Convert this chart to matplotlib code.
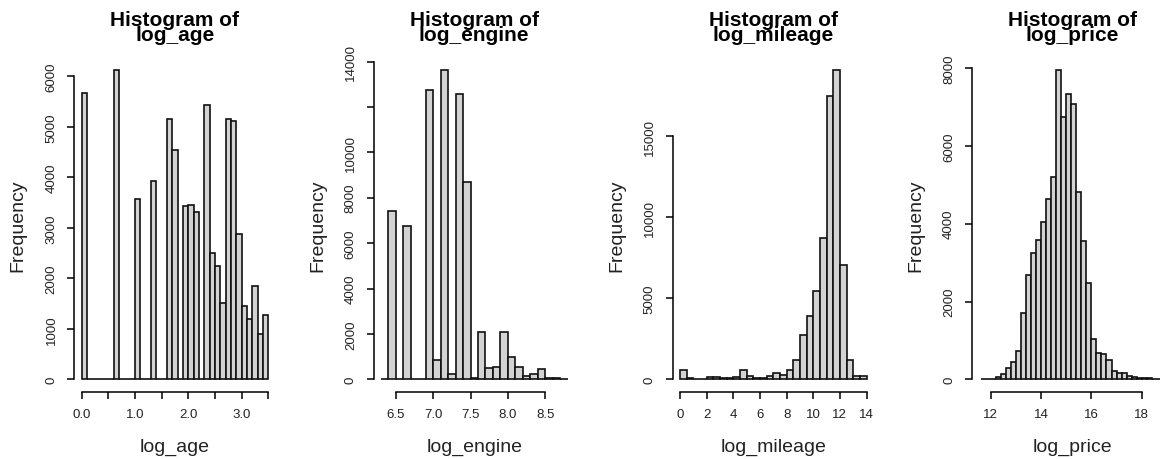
import matplotlib.pyplot as plt
import numpy as np

# histogram counts (bins start, bin width, counts)
age_start, age_step = 0.0, 0.1
age_counts = [5680, 0, 0, 0, 0, 0, 6120, 0, 0, 0,
              3580, 0, 0, 3920, 0, 0, 5160, 4550, 0, 3430,
              3460, 3310, 0, 5430, 2500, 2250, 1510, 5160, 5110, 2870,
              1460, 1190, 1850, 890, 1270]

engine_start, engine_step = 6.3, 0.1
engine_counts = [0, 7400, 0, 6750, 0, 0, 12760, 840, 13610, 240,
                 12580, 8680, 55, 2080, 500, 560, 2080, 1000, 545, 165,
                 250, 440, 45, 45, 10]

mileage_start, mileage_step = 0.0, 0.5
mileage_counts = [555, 85, 5, 5, 145, 145, 60, 60, 160, 555,
                  230, 60, 60, 230, 390, 290, 560, 1170, 2730, 3880,
                  5480, 8730, 17470, 19070, 7030, 1170, 205, 205]

price_start, price_step = 11.6, 0.2
price_counts = [0, 0, 5, 70, 145, 300, 445, 730, 1710, 2670,
                3250, 3590, 4040, 4640, 5200, 7940, 6730, 7340, 7080, 4810,
                3550, 2480, 1045, 685, 640, 490, 215, 170, 170, 85,
                60, 25, 25, 25, 10, 5]

# axis ticks and labels
age_xticks = [0.0, 0.5, 1.0, 1.5, 2.0, 2.5, 3.0, 3.5]
age_xlabels = ["0.0", "", "1.0", "", "2.0", "", "3.0", ""]
age_yticks = [0, 1000, 2000, 3000, 4000, 5000, 6000]
age_ylabels = ["0", "1000", "2000", "3000", "4000", "5000", "6000"]

engine_xticks = [6.5, 7.0, 7.5, 8.0, 8.5]
engine_xlabels = ["6.5", "7.0", "7.5", "8.0", "8.5"]
engine_yticks = [0, 2000, 4000, 6000, 8000, 10000, 12000, 14000]
engine_ylabels = ["0", "2000", "4000", "6000", "8000", "10000", "", "14000"]

mileage_xticks = [0, 2, 4, 6, 8, 10, 12, 14]
mileage_xlabels = ["0", "2", "4", "6", "8", "10", "12", "14"]
mileage_yticks = [0, 5000, 10000, 15000]
mileage_ylabels = ["0", "5000", "10000", "15000"]

price_xticks = [12, 14, 16, 18]
price_xlabels = ["12", "14", "16", "18"]
price_yticks = [0, 2000, 4000, 6000, 8000]
price_ylabels = ["0", "2000", "4000", "6000", "8000"]

plt.rcParams['font.family'] = ['Liberation Sans', 'DejaVu Sans']

W, H = 1160, 460
fig = plt.figure(figsize=(W / 100, H / 100), dpi=100)

PLOT_TOP = 59.0      # pixel row of plot region top
PLOT_BOTTOM = 392.7  # pixel row of x axis line
PLOT_WIDTH = 201.5


def zeichne_hist(left, name, start, step, counts, xlim,
                 xticks, xlabels, yticks, ylabels):
    # axes in pixel coordinates of the R plot region
    ax = fig.add_axes([left / W, 1 - PLOT_BOTTOM / H,
                       PLOT_WIDTH / W, (PLOT_BOTTOM - PLOT_TOP) / H])
    edges = start + step * np.arange(len(counts))
    ax.bar(edges, counts, width=step, align='edge', color='#d3d3d3',
           edgecolor='#111111', linewidth=1.2)

    top = max(counts)
    ax.set_ylim(-0.04 * top, 1.04 * top)
    ax.set_xlim(*xlim)

    ax.spines['top'].set_visible(False)
    ax.spines['right'].set_visible(False)
    ax.spines['left'].set_bounds(yticks[0], yticks[-1])
    ax.spines['bottom'].set_bounds(xticks[0], xticks[-1])
    ax.spines['left'].set_linewidth(1.1)
    ax.spines['bottom'].set_linewidth(1.1)

    ax.set_xticks(xticks)
    ax.set_xticklabels(xlabels)
    ax.set_yticks(yticks)
    ax.set_yticklabels(ylabels, rotation=90, va='center')
    ax.tick_params(length=5, width=1.1, labelsize=9.5, labelcolor='#222222')
    ax.tick_params(axis='x', pad=7)
    ax.tick_params(axis='y', pad=7)

    # title, axis labels as in R hist()
    cx = left + PLOT_WIDTH / 2
    fig.text(cx / W, 1 - 28 / H, "Histogram of\n" + name, ha='center', va='center',
             fontsize=15, fontweight='bold', linespacing=0.72)
    fig.text((left - 56) / W, 1 - 226 / H, "Frequency", rotation=90,
             ha='center', va='center', fontsize=14, color='#222222')
    fig.text(cx / W, 1 - 447 / H, name, ha='center', va='center',
             fontsize=14, color='#222222')
    return ax


zeichne_hist(74.2, "log_age", age_start, age_step, age_counts, (-0.14, 3.64),
             age_xticks, age_xlabels, age_yticks, age_ylabels)
zeichne_hist(373.5, "log_engine", engine_start, engine_step, engine_counts, (6.2, 8.9),
             engine_xticks, engine_xlabels, engine_yticks, engine_ylabels)
zeichne_hist(672.5, "log_mileage", mileage_start, mileage_step, mileage_counts, (-0.56, 14.56),
             mileage_xticks, mileage_xlabels, mileage_yticks, mileage_ylabels)
zeichne_hist(971.7, "log_price", price_start, price_step, price_counts, (11.245, 19.25),
             price_xticks, price_xlabels, price_yticks, price_ylabels)

plt.savefig('out.png', dpi=100)
